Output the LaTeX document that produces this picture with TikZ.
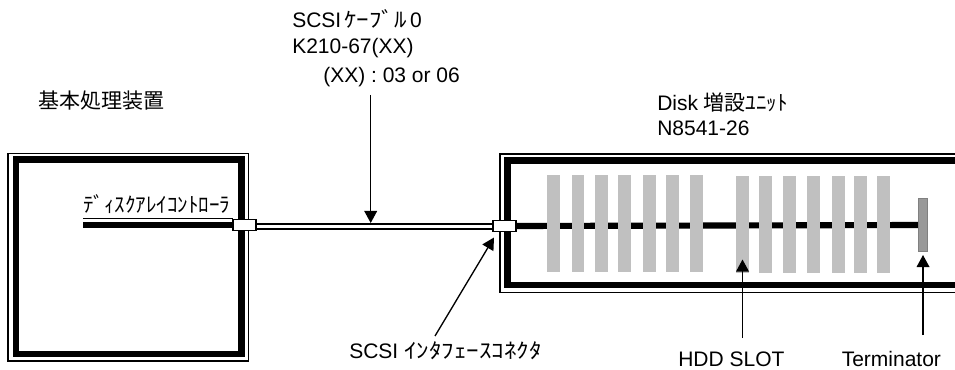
\documentclass[tikz,border=0pt]{standalone}
\usepackage{fontspec}
\setmainfont{Liberation Sans}
\newfontfamily\jp{Noto Sans CJK JP}
\newfontfamily\jpw[FakeStretch=1.19]{Noto Sans CJK JP}
\usetikzlibrary{arrows.meta}
\definecolor{slotgray}{RGB}{192,192,192}
\definecolor{termfill}{RGB}{153,153,153}
\definecolor{termedge}{RGB}{128,128,128}
\begin{document}
\begin{tikzpicture}[x=0.75pt,y=-0.75pt,
  lbl/.style={inner sep=0pt, anchor=base west, font=\fontsize{15.75}{18}\selectfont},
  thinframe/.style={draw=black, line width=1.1pt},
  thickframe/.style={draw=black, line width=4.9pt},
  bus/.style={draw=black, line width=4.6pt},
  cableout/.style={draw=black, line width=5.3pt},
  cablein/.style={draw=white, line width=2.1pt},
  connbox/.style={draw=black, fill=white, line width=0.9pt, minimum width=17.25pt, minimum height=8.6pt, inner sep=0pt},
  slotbar/.style={fill=slotgray, draw=none, minimum width=9.6pt, minimum height=72.5pt, inner sep=0pt},
  termbar/.style={fill=termfill, draw=termedge, line width=0.8pt, minimum width=6.3pt, minimum height=39.5pt, inner sep=0pt},
  callout/.style={draw=black, line width=1pt, -{Triangle[length=9pt,width=9.5pt]}}
]
\useasboundingbox (0,0) rectangle (955,370);
\clip (0,0) rectangle (955,370);

% left unit frame
\draw[thinframe] (8,153.5) rectangle (248.5,361);
\draw[thickframe] (16,159.7) rectangle (241.7,354);

% right unit frame (runs past right edge)
\draw[thinframe] (500,154) rectangle (1000,292.3);
\draw[thickframe] (507.3,160.3) rectangle (1000,285);

% labels
\node[lbl, anchor=center] (hostlbl) at (101.5,101) {\jp 基本処理装置};
\node[lbl] (ctrl) at (83,213) {\jp ﾃﾞｨｽｸｱﾚｲｺﾝﾄﾛｰﾗ};
\node[lbl] (cab1) at (292,28) {SCSI\hspace{2.4pt}{\jpw ｹｰﾌﾞﾙ}\hspace{2.4pt}0};
\node[lbl] (cab2) at (292,54) {K210-67(XX)};
\node[lbl] (cab3) at (323,82.5) {(XX) : 03 or 06};
\node[lbl] (disk1) at (657,111) {Disk {\jp 増設ﾕﾆｯﾄ}};
\node[lbl] (disk2) at (657,136) {N8541-26};
\node[lbl] (ifl) at (349,358) {SCSI {\jpw ｲﾝﾀﾌｪｰｽｺﾈｸﾀ}};
\node[lbl] (hddl) at (678,366.5) {HDD SLOT};
\node[lbl] (terml) at (841.5,366.5) {Terminator};

% connectors
\node[connbox] (c1) at (244.5,225) {};
\node[connbox] (c2) at (504.5,226) {};
\node[termbar] (term) at (923,225) {};

% left bus and underline
\coordinate (busL) at (83,225.3);
\coordinate (ulL) at (83,218.8);
\coordinate (ulR) at (233,218.8);
\draw[black, line width=0.8pt] (ulL) -- (ulR);
\draw[bus] (busL) -- (busL -| c1.west);

% cable
\draw[cableout] (c1.east |- 0,226.5) -- (c2.west |- 0,226.5);
\draw[cablein] (c1.east |- 0,226.5) -- (c2.west |- 0,226.5);
\node[connbox] at (c1) {};
\node[connbox] at (c2) {};

% right bus
\draw[bus] (c2.east) -- (term.west);

% HDD slots
\foreach \i/\x in {1/553.3,2/578,3/601.7,4/624.7,5/649.7,6/672.5,7/696.3}
  \node[slotbar] (sa\i) at (\x,223.5) {};
\foreach \i/\x in {1/742.2,2/765.7,3/789.5,4/813.3,5/838.5,6/860.3,7/883.7}
  \node[slotbar] (sb\i) at (\x,224.5) {};
\node[termbar] at (term) {};

% callouts
\coordinate (cabS) at (370.7,95);
\coordinate (cabT) at (370.7,223);
\draw[callout] (cabS) -- (cabT);
\coordinate (ifS) at (435,336);
\coordinate (ifT) at (494,237.5);
\draw[callout] (ifS) -- (ifT);
\coordinate (hddS) at (742.5,338);
\coordinate (hddT) at (742.5,259.5);
\draw[callout] (hddS) -- (hddT);
\coordinate (termS) at (923,335);
\coordinate (termT) at (923,255);
\draw[callout] (termS) -- (termT);
\end{tikzpicture}
\end{document}
